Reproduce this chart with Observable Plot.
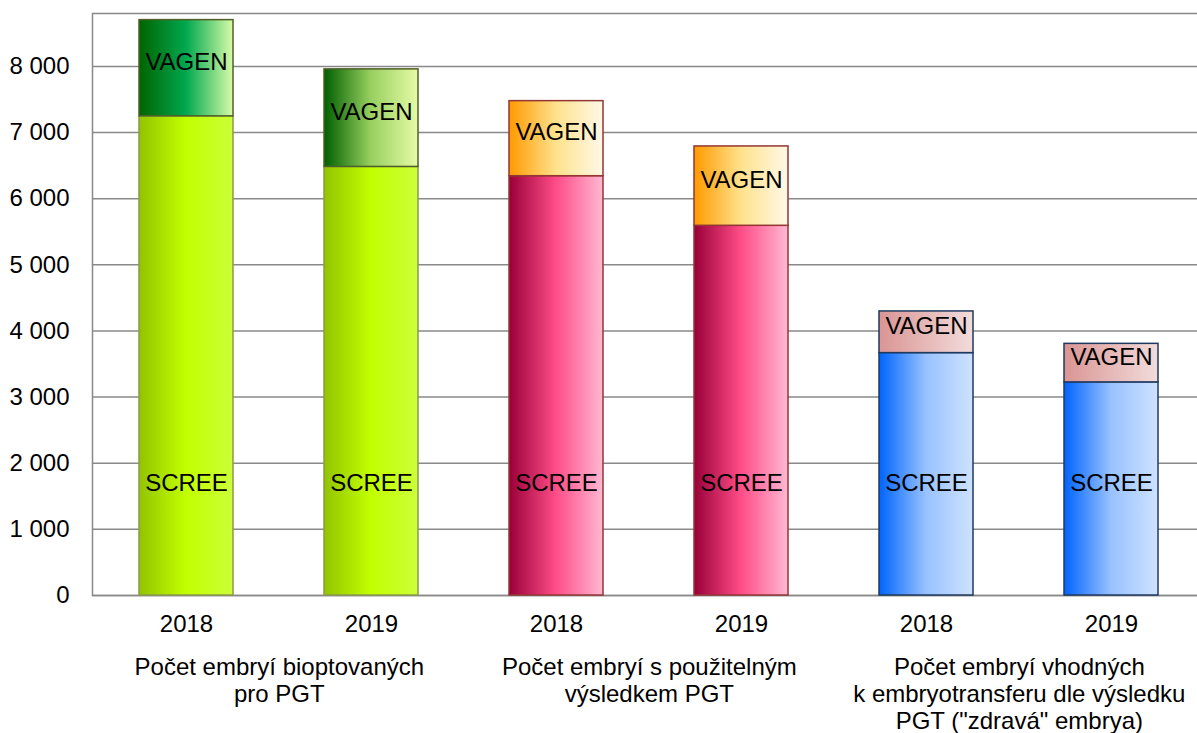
<!DOCTYPE html>
<html>
<head>
<meta charset="utf-8">
<script src="https://cdn.jsdelivr.net/npm/d3@7"></script>
<script src="https://cdn.jsdelivr.net/npm/@observablehq/plot@0.6"></script>
<style>
  html, body { margin: 0; padding: 0; background: #fff; }
  #wrap { width: 1197px; height: 733px; overflow: hidden; }
  #wrap svg { max-width: none !important; display: block; }
</style>
</head>
<body>
<div id="wrap"></div>
<script>
// ---- data ----
const groups = [
  "Počet embryí bioptovaných\npro PGT",
  "Počet embryí s použitelným\nvýsledkem PGT",
  "Počet embryí vhodných\nk embryotransferu dle výsledku\nPGT (\"zdravá\" embrya)"
];
const years = ["2018", "2019"];
const screeValues = [7245, 6480, 6340, 5590, 3665, 3222];
const vagenValues = [1455, 1475, 1135, 1200, 630, 583];
const segmentNames = ["SCREE", "VAGEN"];
const yTicks = [0, 1000, 2000, 3000, 4000, 5000, 6000, 7000, 8000];

// ---- styles ----
const gradients = {
  g1s:  [["0%", "#92c400"], ["50%", "#c2ff00"], ["100%", "#ccff3a"]],
  g1v8: [["0%", "#006400"], ["50%", "#00a84f"], ["100%", "#d8fba8"]],
  g1v9: [["0%", "#005f00"], ["50%", "#98d060"], ["100%", "#e6fba6"]],
  g2s:  [["0%", "#990038"], ["50%", "#ff4d88"], ["100%", "#ffb8d2"]],
  g2v:  [["0%", "#ff9a00"], ["50%", "#ffe28c"], ["100%", "#fff8e8"]],
  g3s:  [["0%", "#0064ff"], ["50%", "#98c2ff"], ["100%", "#cfe2ff"]],
  g3v:  [["0%", "#d99594"], ["100%", "#f2dcdb"]]
};
const fillIds = [
  ["g1s", "g1v8"], ["g1s", "g1v9"],
  ["g2s", "g2v"], ["g2s", "g2v"],
  ["g3s", "g3v"], ["g3s", "g3v"]
];
const strokes = [
  ["#8a9a48", "#4f5f28"],
  ["#943634", "#943634"],
  ["#1f3a60", "#1f3a60"]
];
const gridColor = "#898989";
const font = "'Liberation Sans', Arial, sans-serif";
const fs = 24;

// ---- build rows ----
const keys = [];
const rows = [];
const barLabels = [];
groups.forEach((g, gi) => {
  years.forEach((yr, yi) => {
    const i = gi * 2 + yi;
    const key = gi + "-" + yr;
    keys.push(key);
    const s = screeValues[i], v = vagenValues[i];
    rows.push({key, y1: 0, y2: s, fill: `url(#${fillIds[i][0]})`, stroke: strokes[gi][0]});
    rows.push({key, y1: s, y2: s + v, fill: `url(#${fillIds[i][1]})`, stroke: strokes[gi][1]});
    barLabels.push({key, text: segmentNames[0], y: 1700, top: false});
    barLabels.push({key, text: segmentNames[1], y: s + v / 2, top: true});
  });
});
const groupRows = groups.map((g, gi) => ({key: gi + "-" + years[0], label: g}));

const W = 1206, ML = 92, MR = 0;
const step = (W - ML - MR) / keys.length;

const chart = Plot.plot({
  width: W,
  height: 733,
  marginLeft: ML,
  marginRight: MR,
  marginTop: 13,
  marginBottom: 138,
  style: {fontFamily: font, fontSize: fs + "px", color: "#000", background: "#fff", maxWidth: "none"},
  x: {type: "band", domain: keys, paddingInner: 0.49, paddingOuter: 0.245, label: null},
  y: {domain: [0, 8800], label: null},
  color: {type: "identity"},
  marks: [
    Plot.ruleY(yTicks, {stroke: gridColor, strokeWidth: 1.5}),
    Plot.frame({stroke: gridColor, strokeWidth: 1.5}),
    Plot.barY(rows, {x: "key", y1: "y1", y2: "y2", fill: "fill", stroke: "stroke", strokeWidth: 1.5}),
    Plot.text(barLabels.filter(d => !d.top), {x: "key", y: "y", text: "text", fontSize: fs, fill: "#000"}),
    Plot.text(barLabels.filter(d => d.top), {x: "key", y: "y", text: "text", fontSize: fs, fill: "#000", dy: -6}),
    Plot.axisY(yTicks, {tickSize: 0, tickPadding: 23, fontSize: fs,
      tickFormat: d => d3.format(",")(d).replace(/,/g, " ")}),
    Plot.axisX({tickSize: 0, tickPadding: 19, fontSize: fs, tickFormat: k => k.split("-")[1]}),
    Plot.text(groupRows, {x: "key", text: "label", frameAnchor: "bottom", lineAnchor: "top",
      dy: 60, dx: step / 2, fontSize: fs, lineHeight: 1.125, fill: "#000"})
  ]
});

// gradient definitions
const ns = "http://www.w3.org/2000/svg";
const defs = document.createElementNS(ns, "defs");
for (const [id, stops] of Object.entries(gradients)) {
  const lg = document.createElementNS(ns, "linearGradient");
  lg.setAttribute("id", id);
  lg.setAttribute("x1", "0"); lg.setAttribute("y1", "0");
  lg.setAttribute("x2", "1"); lg.setAttribute("y2", "0");
  for (const [off, col] of stops) {
    const st = document.createElementNS(ns, "stop");
    st.setAttribute("offset", off);
    st.setAttribute("stop-color", col);
    lg.appendChild(st);
  }
  defs.appendChild(lg);
}
chart.insertBefore(defs, chart.firstChild);
chart.style.maxWidth = "none";
document.getElementById("wrap").appendChild(chart);
</script>
</body>
</html>
